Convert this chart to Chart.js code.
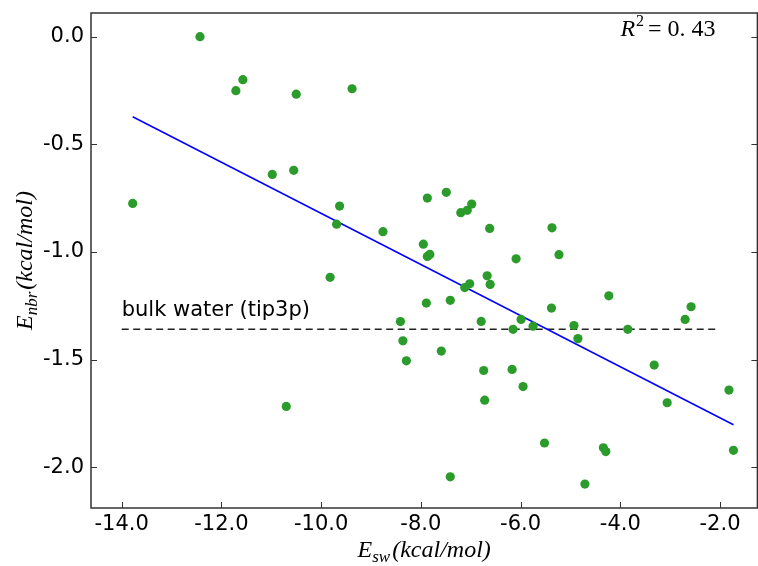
<!DOCTYPE html>
<html>
<head>
<meta charset="utf-8">
<script src="https://cdn.jsdelivr.net/npm/chart.js@4"></script>
<style>
  html, body { margin: 0; padding: 0; background: #fff; overflow: hidden; }
  canvas { display: block; }
</style>
</head>
<body>
<canvas id="scatterChart" width="762" height="566"></canvas>
<script>
// values
const eSw = [-13.78, -12.43, -11.71, -11.57, -10.50, -9.38, -10.98, -10.55, -9.63, -9.69,
  -9.82, -10.70, -8.76, -7.87, -7.49, -7.20, -7.07, -6.98, -6.62, -5.37,
  -7.95, -7.87, -7.82, -6.09, -5.23, -6.67, -7.02, -6.61, -7.12, -7.89,
  -7.41, -5.38, -4.23, -2.58, -2.70, -8.41, -6.79, -5.99, -6.15, -5.75,
  -4.93, -3.85, -4.85, -8.36, -7.59, -8.29, -6.74, -6.17, -3.32, -5.95,
  -1.82, -6.72, -3.06, -5.52, -4.34, -4.29, -1.73, -7.41, -4.71];
const eNbr = [-0.775, 0.0, -0.251, -0.200, -0.267, -0.242, -0.640, -0.621, -0.787, -0.871,
  -1.118, -1.718, -0.906, -0.750, -0.723, -0.818, -0.807, -0.778, -0.891, -0.888,
  -0.964, -1.021, -1.012, -1.032, -1.013, -1.111, -1.148, -1.151, -1.166, -1.238,
  -1.225, -1.261, -1.204, -1.255, -1.314, -1.324, -1.323, -1.314, -1.360, -1.345,
  -1.342, -1.360, -1.403, -1.413, -1.461, -1.506, -1.551, -1.546, -1.526, -1.626,
  -1.642, -1.689, -1.701, -1.888, -1.910, -1.928, -1.922, -2.045, -2.079];

// fitted line end points
const fitX = [-13.78, -1.73];
const fitY = [-0.372, -1.803];

// bulk water reference line
const bulkX = [-14.0, -2.05];
const bulkY = [-1.36, -1.36];
const bulkLabel = 'bulk water (tip3p)';
const bulkLabelPos = [-14.0, -1.3];

const xTicks = [-14, -12, -10, -8, -6, -4, -2];
const yTicks = [0, -0.5, -1.0, -1.5, -2.0];
const rSquared = '0. 43';

function toPoints(xs, ys) {
    return xs.map((x, i) => ({ x: x, y: ys[i] }));
}

// frame, inward ticks and mathtext-like labels
const decorPlugin = {
    id: 'decor',
    afterDraw(chart) {
        const ctx = chart.ctx;
        const a = chart.chartArea;
        const xs = chart.scales.x;
        const ys = chart.scales.y;
        ctx.save();
        ctx.strokeStyle = '#333';
        ctx.lineWidth = 1.5;
        ctx.strokeRect(a.left, a.top, a.right - a.left, a.bottom - a.top);
        ctx.lineWidth = 1;
        ctx.beginPath();
        xTicks.forEach(v => {
            const px = Math.round(xs.getPixelForValue(v)) + 0.5;
            ctx.moveTo(px, a.bottom); ctx.lineTo(px, a.bottom - 6);
        });
        yTicks.forEach(v => {
            const py = Math.round(ys.getPixelForValue(v)) + 0.5;
            ctx.moveTo(a.left, py); ctx.lineTo(a.left + 6, py);
            ctx.moveTo(a.right, py); ctx.lineTo(a.right - 6, py);
        });
        ctx.stroke();

        // bulk water label
        ctx.fillStyle = '#000';
        ctx.font = '21px "DejaVu Sans"';
        ctx.textAlign = 'left';
        ctx.textBaseline = 'alphabetic';
        ctx.fillText(bulkLabel, xs.getPixelForValue(bulkLabelPos[0]), ys.getPixelForValue(bulkLabelPos[1]));

        // R^2 annotation
        const serif = '"Liberation Serif", "DejaVu Serif", serif';
        let x0 = a.right - 137, y0 = a.top + 23;
        ctx.font = 'italic 24px ' + serif;
        ctx.fillText('R', x0, y0);
        x0 += ctx.measureText('R').width + 1;
        ctx.font = '16px ' + serif;
        ctx.fillText('2', x0, y0 - 10);
        x0 += ctx.measureText('2').width + 4;
        ctx.font = '24px ' + serif;
        ctx.fillText('= ' + rSquared, x0, y0);

        // axis titles like E_sw(kcal/mol)
        const drawMath = (base, sub, rest, x, y) => {
            ctx.font = 'italic 24px ' + serif;
            const wBase = ctx.measureText(base).width;
            const wRest = ctx.measureText(rest).width;
            ctx.font = 'italic 17px ' + serif;
            const wSub = ctx.measureText(sub).width;
            const start = x - (wBase + wSub + wRest + 2) / 2;
            ctx.font = 'italic 24px ' + serif;
            ctx.fillText(base, start, y);
            ctx.font = 'italic 17px ' + serif;
            ctx.fillText(sub, start + wBase, y + 5);
            ctx.font = 'italic 24px ' + serif;
            ctx.fillText(rest, start + wBase + wSub + 2, y);
        };
        drawMath('E', 'sw', '(kcal/mol)', (a.left + a.right) / 2, 557);

        ctx.translate(32, (a.top + a.bottom) / 2);
        ctx.rotate(-Math.PI / 2);
        drawMath('E', 'nbr', '(kcal/mol)', 0, 0);
        ctx.restore();
    }
};

const ctx = document.getElementById('scatterChart').getContext('2d');
const chart = new Chart(ctx, {
    type: 'scatter',
    data: {
        datasets: [
            {
                data: toPoints(eSw, eNbr),
                backgroundColor: '#2b9b2b',
                borderWidth: 0,
                pointRadius: 4.6,
                order: 0
            },
            {
                type: 'line',
                data: toPoints(fitX, fitY),
                borderColor: '#0000ff',
                borderWidth: 1.5,
                pointRadius: 0,
                fill: false,
                order: 1
            },
            {
                type: 'line',
                data: toPoints(bulkX, bulkY),
                borderColor: '#222',
                borderWidth: 1.5,
                borderDash: [7, 4.5],
                pointRadius: 0,
                fill: false,
                order: 2
            }
        ]
    },
    plugins: [decorPlugin],
    options: {
        responsive: false,
        animation: false,
        devicePixelRatio: 1,
        // canvas is 4px wider than the window: chart.js keeps that much spare on the right
        layout: { padding: { top: 13, right: 1, left: 0, bottom: 0 } },
        plugins: {
            legend: { display: false },
            tooltip: { enabled: false }
        },
        scales: {
            x: {
                type: 'linear',
                min: -14.616,
                max: -1.25,
                grid: { display: false, drawTicks: false },
                border: { display: false },
                afterBuildTicks: s => { s.ticks = xTicks.map(v => ({ value: v })); },
                afterFit: s => { s.height = 58; s.paddingLeft = 0; s.paddingRight = 0; },
                ticks: {
                    padding: 4,
                    color: '#000',
                    font: { family: 'DejaVu Sans', size: 21 },
                    callback: v => v.toFixed(1)
                }
            },
            y: {
                type: 'linear',
                min: -2.19,
                max: 0.11,
                grid: { display: false, drawTicks: false },
                border: { display: false },
                afterBuildTicks: s => { s.ticks = yTicks.map(v => ({ value: v })); },
                afterFit: s => { s.width = 91; s.paddingTop = 0; s.paddingBottom = 0; },
                ticks: {
                    padding: 7,
                    color: '#000',
                    font: { family: 'DejaVu Sans', size: 21 },
                    callback: v => v.toFixed(1)
                }
            }
        }
    }
});
</script>
</body>
</html>
